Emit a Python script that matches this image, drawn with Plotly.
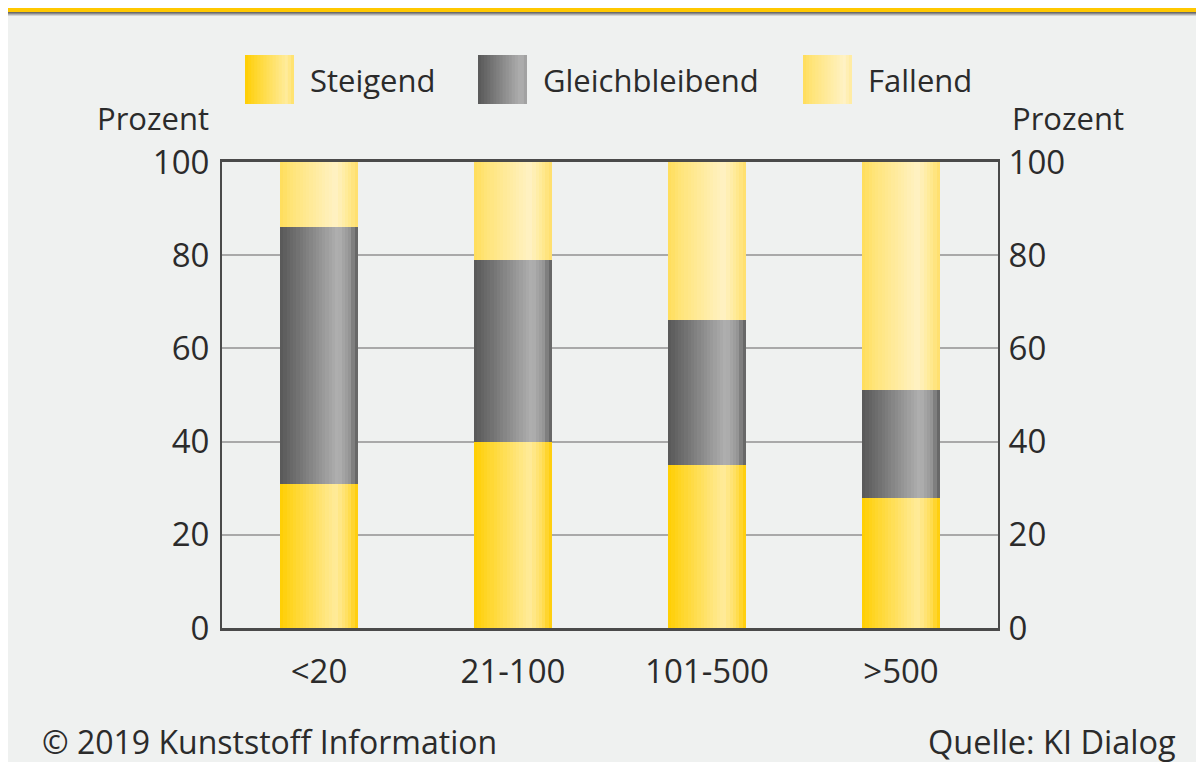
import plotly.graph_objects as go

# ---- data ----
categories = ["<20", "21-100", "101-500", ">500"]
steigend = [31, 40, 35, 28]
gleichbleibend = [55, 39, 31, 23]
fallend = [14, 21, 34, 49]
series_names = ["Steigend", "Gleichbleibend", "Fallend"]
y_ticks = [0, 20, 40, 60, 80, 100]

# ---- style ----
W, H = 1204, 762
OFF = 8  # page offset of the figure on screen
L, T = 222 - OFF, 162 - OFF
PW, PH = 776, 466
R = W - L - PW
B = H - T - PH
BG = "#eff1f0"
FONT = "Open Sans"
TXT = "#2b2b2b"

grad_stops = {
    "Steigend": [(0.0, (255, 206, 0)), (0.12, (255, 212, 30)), (0.72, (255, 235, 155)),
                 (0.88, (255, 222, 90)), (1.0, (255, 204, 0))],
    "Gleichbleibend": [(0.0, (88, 88, 88)), (0.15, (105, 105, 105)), (0.75, (176, 176, 176)),
                       (0.9, (148, 148, 148)), (1.0, (92, 92, 92))],
    "Fallend": [(0.0, (255, 221, 90)), (0.15, (255, 228, 120)), (0.72, (255, 242, 196)),
                (0.9, (255, 232, 140)), (1.0, (255, 222, 105))],
}


def interp(stops, t):
    for (t0, c0), (t1, c1) in zip(stops[:-1], stops[1:]):
        if t0 <= t <= t1:
            f = (t - t0) / (t1 - t0) if t1 > t0 else 0
            c = [round(a + (b - a) * f) for a, b in zip(c0, c1)]
            return "rgb(%d,%d,%d)" % tuple(c)
    return "rgb(%d,%d,%d)" % stops[-1][1]


values = {"Steigend": steigend, "Gleichbleibend": gleichbleibend, "Fallend": fallend}
bases = {
    "Steigend": [0] * len(categories),
    "Gleichbleibend": list(steigend),
    "Fallend": [a + b for a, b in zip(steigend, gleichbleibend)],
}

xpos = list(range(len(categories)))
BAR_W = 0.40
N = 24
step = BAR_W / N

fig = go.Figure()
for name in series_names:
    for k in range(N):
        t = (k + 0.5) / N
        fig.add_trace(go.Bar(
            x=xpos, y=values[name], base=bases[name],
            offset=-BAR_W / 2 + k * step,
            width=step * (1.6 if k < N - 1 else 1.0),
            marker=dict(color=interp(grad_stops[name], t), line=dict(width=0)),
            showlegend=False, hoverinfo="skip",
            yaxis="y2" if name == "Fallend" else "y",
        ))


# screen pixel -> paper coordinates
def px_x(p):
    return (p - OFF - L) / PW


def px_y(p):
    return (T + PH - (p - OFF)) / PH


shapes = []
annotations = []

# top band
shapes.append(dict(type="rect", xref="paper", yref="paper", x0=px_x(0), x1=px_x(W + 20),
                   y0=px_y(12), y1=px_y(OFF), fillcolor="#ffc800", line=dict(width=0), layer="above"))
for i, col in enumerate(["#6a6a6a", "#8a8a8a", "#b0b0b0", "#d2d3d2"]):
    shapes.append(dict(type="rect", xref="paper", yref="paper", x0=px_x(0), x1=px_x(W + 20),
                       y0=px_y(13 + i), y1=px_y(12 + i), fillcolor=col, line=dict(width=0)))

# legend swatches
legend_x = {"Steigend": 245, "Gleichbleibend": 478, "Fallend": 803}
NS = 16
for name in series_names:
    x0 = legend_x[name]
    sw = 49 / NS
    for k in range(NS):
        t = (k + 0.5) / NS * 0.85
        shapes.append(dict(type="rect", xref="paper", yref="paper",
                           x0=px_x(x0 + k * sw), x1=px_x(x0 + (k + 1.3) * sw if k < NS - 1 else x0 + 49),
                           y0=px_y(104), y1=px_y(55),
                           fillcolor=interp(grad_stops[name], t), line=dict(width=0)))
    annotations.append(dict(text=name, xref="paper", yref="paper", x=px_x(x0 + 63), y=px_y(80),
                            xanchor="left", yanchor="middle", showarrow=False,
                            font=dict(family=FONT, size=31, color=TXT)))

annotations += [
    dict(text="Prozent", xref="paper", yref="paper", x=px_x(211), y=px_y(118), xanchor="right",
         yanchor="middle", showarrow=False, font=dict(family=FONT, size=31, color=TXT)),
    dict(text="Prozent", xref="paper", yref="paper", x=px_x(1010), y=px_y(118), xanchor="left",
         yanchor="middle", showarrow=False, font=dict(family=FONT, size=31, color=TXT)),
    dict(text="© 2019 Kunststoff Information", xref="paper", yref="paper", x=px_x(40), y=px_y(741),
         xanchor="left", yanchor="middle", showarrow=False, font=dict(family=FONT, size=32, color=TXT)),
    dict(text="Quelle: KI Dialog", xref="paper", yref="paper", x=px_x(1178), y=px_y(741),
         xanchor="right", yanchor="middle", showarrow=False, font=dict(family=FONT, size=32.5, color=TXT)),
]

axis_font = dict(family=FONT, size=33, color=TXT)
fig.update_layout(
    width=W, height=H,
    margin=dict(l=L, r=R, t=T, b=B, pad=0),
    paper_bgcolor=BG, plot_bgcolor=BG,
    barmode="overlay", bargap=0,
    showlegend=False,
    shapes=shapes, annotations=annotations,
    xaxis=dict(range=[-0.5, len(categories) - 0.5], tickvals=xpos, ticktext=categories,
               showgrid=False, zeroline=False, showline=True, linecolor="#4a4a4a", linewidth=3,
               mirror=True, ticks="outside", ticklen=12, tickcolor="rgba(0,0,0,0)",
               tickfont=axis_font, fixedrange=True),
    yaxis=dict(range=[0, 100], tickvals=y_ticks, showgrid=True, gridcolor="#a9a9a9", gridwidth=2,
               zeroline=False, showline=True, linecolor="#4a4a4a", linewidth=2, mirror=True,
               ticks="outside", ticklen=4, tickcolor="rgba(0,0,0,0)", tickfont=axis_font),
    yaxis2=dict(range=[0, 100], tickvals=y_ticks, overlaying="y", side="right", showgrid=False,
                zeroline=False, showline=False, ticks="outside", ticklen=3,
                tickcolor="rgba(0,0,0,0)", tickfont=axis_font),
)

fig.write_html("out.html")
